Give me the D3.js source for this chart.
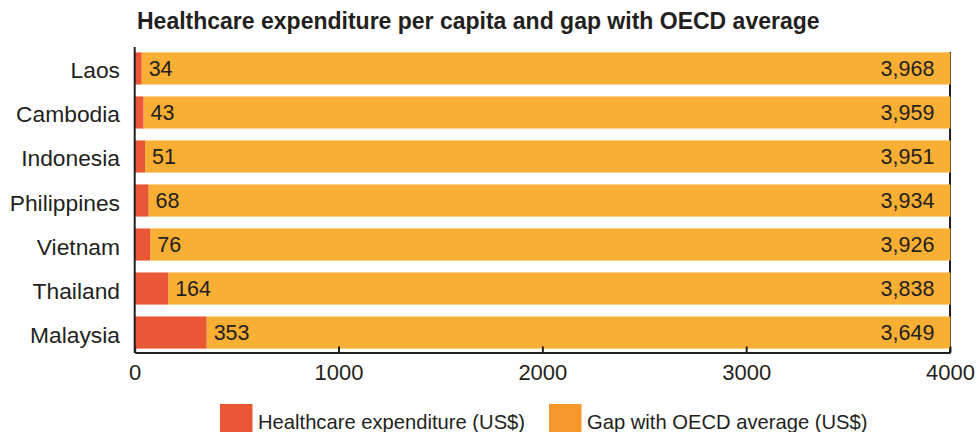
<!DOCTYPE html>
<html>
<head>
<meta charset="utf-8">
<script src="https://cdn.jsdelivr.net/npm/d3@7"></script>
<style>
  html, body { margin: 0; padding: 0; background: #ffffff; }
  svg { display: block; }
  text { font-family: "Liberation Sans", Arial, Helvetica, sans-serif; fill: #231f20; }
</style>
</head>
<body>
<svg id="chart" width="978" height="432"></svg>
<script>
// Per-capita healthcare spending (US$) and the remaining gap to the OECD average
const countries = ["Laos", "Cambodia", "Indonesia", "Philippines", "Vietnam", "Thailand", "Malaysia"];
const expenditure = [34, 43, 51, 68, 76, 164, 353];
const gapToOecd = [3968, 3959, 3951, 3934, 3926, 3838, 3649];
const xTicks = [0, 1000, 2000, 3000, 4000];
const seriesNames = ["Healthcare expenditure (US$)", "Gap with OECD average (US$)"];

const RED = "#e95734";
const ORANGE = "#f9ae34";
const ORANGE_KEY = "#f7982d";
const INK = "#231f20";

const svg = d3.select("#chart");

const x = d3.scaleLinear().domain([0, 4000]).range([134.7, 950]);
const y = d3.scaleBand().domain(countries).range([48, 353]).paddingInner(0.27).paddingOuter(0.1);

// Title
svg.append("text")
  .attr("x", 137).attr("y", 29)
  .attr("font-size", 23).attr("font-weight", "bold")
  .text("Healthcare expenditure per capita and gap with OECD average");

// Right frame edge at 4000, sitting behind the bars
svg.append("line")
  .attr("x1", x(4000)).attr("x2", x(4000))
  .attr("y1", y.range()[0] + 4).attr("y2", 353)
  .attr("stroke", INK).attr("stroke-width", 2);

const rows = countries.map((c, i) => ({ c, a: expenditure[i], g: gapToOecd[i] }));

const row = svg.append("g").selectAll("g").data(rows).join("g");

row.append("rect")
  .attr("x", d => x(d.a)).attr("y", d => y(d.c))
  .attr("width", d => x(d.a + d.g) - x(d.a)).attr("height", y.bandwidth())
  .attr("fill", ORANGE);

row.append("rect")
  .attr("x", x(0)).attr("y", d => y(d.c))
  .attr("width", d => x(d.a) - x(0)).attr("height", y.bandwidth())
  .attr("fill", RED);

// Value labels
row.append("text")
  .attr("x", d => x(d.a) + 7)
  .attr("y", d => y(d.c) + y.bandwidth() / 2 + 7.5)
  .attr("font-size", 21.5)
  .text(d => d3.format(",")(d.a));

row.append("text")
  .attr("x", d => x(d.a + d.g) - 16)
  .attr("y", d => y(d.c) + y.bandwidth() / 2 + 7.5)
  .attr("font-size", 21.5).attr("text-anchor", "end")
  .text(d => d3.format(",")(d.g));

// Category labels
svg.append("g").selectAll("text").data(countries).join("text")
  .attr("x", 120)
  .attr("y", d => y(d) + y.bandwidth() / 2 + 10)
  .attr("font-size", 22.8).attr("text-anchor", "end")
  .text(d => d);

// Left axis line
svg.append("line")
  .attr("x1", x(0)).attr("x2", x(0))
  .attr("y1", 47).attr("y2", 353)
  .attr("stroke", INK).attr("stroke-width", 2);

// Bottom axis with inward ticks
const xAxis = d3.axisBottom(x).tickValues(xTicks).tickFormat(d3.format("d"))
  .tickSizeInner(-6).tickSizeOuter(0).tickPadding(12);
const gx = svg.append("g").attr("transform", "translate(0,352.5)").call(xAxis);
gx.select(".domain").attr("stroke", INK).attr("stroke-width", 2);
gx.selectAll(".tick line").attr("stroke", INK).attr("stroke-width", 2);
gx.selectAll(".tick text")
  .attr("font-family", "Liberation Sans, Arial, sans-serif")
  .attr("font-size", 22).attr("fill", INK).attr("dy", null).attr("y", 27);

// Legend
const legend = svg.append("g");
const keyX = [220, 549];
const keyColors = [RED, ORANGE_KEY];
seriesNames.forEach((name, i) => {
  legend.append("rect").attr("x", keyX[i]).attr("y", 404).attr("width", 32.5).attr("height", 32).attr("fill", keyColors[i]);
  legend.append("text").attr("x", keyX[i] + 38).attr("y", 429).attr("font-size", 20.2).text(name);
});
</script>
</body>
</html>
